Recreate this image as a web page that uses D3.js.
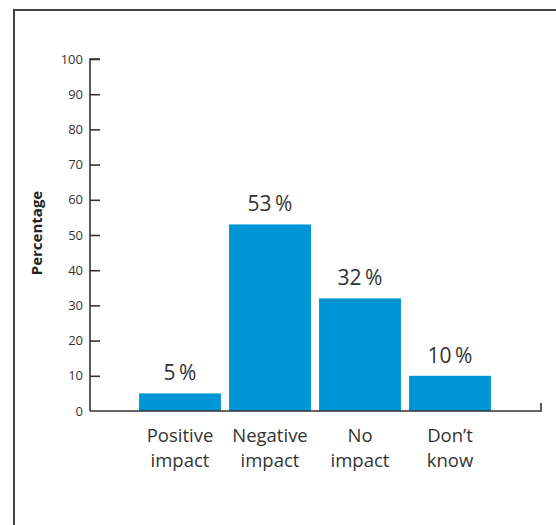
<!DOCTYPE html>
<html>
<head>
<meta charset="utf-8">
<script src="https://cdn.jsdelivr.net/npm/d3@7"></script>
<style>
  html, body { margin: 0; padding: 0; background: #fff; }
  svg { display: block; }
</style>
</head>
<body>
<script>
// Survey responses: perceived impact (percent of respondents)
const categories = [["Positive", "impact"], ["Negative", "impact"], ["No", "impact"], ["Don\u2019t", "know"]];
const values = [5, 53, 32, 10];
const yTicks = [0, 10, 20, 30, 40, 50, 60, 70, 80, 90, 100];
const yTitle = "Percentage";

const W = 556, H = 525;
const font = "'Open Sans', 'Noto Sans', sans-serif";
const ink = "#333";
const barColor = "#0096d6";

const svg = d3.select("body").append("svg").attr("width", W).attr("height", H);

// outer frame (open to the right and bottom)
svg.append("path")
  .attr("d", "M14,530 V10 H560")
  .attr("fill", "none").attr("stroke", "#444").attr("stroke-width", 2);

const x0 = 90, x1 = 541, yBase = 411, yTop = 59;

const y = d3.scaleLinear().domain([0, 100]).range([yBase, yTop]);
const x = d3.scaleBand()
  .domain(categories.map((d, i) => i))
  .range([135, 495])
  .paddingInner(0.09)
  .paddingOuter(0.045);

// bars
svg.append("g").selectAll("rect")
  .data(values)
  .join("rect")
  .attr("x", (d, i) => x(i))
  .attr("width", x.bandwidth())
  .attr("y", d => y(d))
  .attr("height", d => yBase - y(d))
  .attr("fill", barColor);

// value labels
svg.append("g").selectAll("text")
  .data(values)
  .join("text")
  .attr("x", (d, i) => x(i) + x.bandwidth() / 2)
  .attr("y", d => y(d) - 13)
  .attr("text-anchor", "middle")
  .attr("font-family", font)
  .attr("font-size", 21)
  .attr("fill", ink)
  .text(d => d + "\u2009%");

// y axis
const yAxis = d3.axisRight(y).tickValues(yTicks).tickSize(10).tickFormat(d3.format("d"));
const gy = svg.append("g").attr("transform", `translate(${x0},0)`).call(yAxis);
gy.select(".domain").attr("d", `M10,${yTop}H0V${yBase}`).attr("stroke", ink).attr("stroke-width", 1.6);
gy.selectAll(".tick line").attr("stroke", ink).attr("stroke-width", 1.6)
  .filter(d => d === 0).remove();
gy.selectAll(".tick text")
  .attr("x", -7).attr("text-anchor", "end")
  .attr("font-family", font).attr("font-size", 13).attr("fill", ink);

// x axis baseline with end tick
svg.append("path")
  .attr("d", `M${x0},${yBase}H${x1}V${yBase - 8}`)
  .attr("fill", "none").attr("stroke", ink).attr("stroke-width", 1.6);

// category labels (two lines)
const cl = svg.append("g").selectAll("text")
  .data(categories)
  .join("text")
  .attr("text-anchor", "middle")
  .attr("font-family", font)
  .attr("font-size", 18.5)
  .attr("fill", ink);
cl.each(function(d, i) {
  const t = d3.select(this);
  const cx = x(i) + x.bandwidth() / 2;
  t.append("tspan").attr("x", cx).attr("y", 442).text(d[0]);
  t.append("tspan").attr("x", cx).attr("y", 467).text(d[1]);
});

// y axis title
svg.append("text")
  .attr("transform", `translate(42,233) rotate(-90)`)
  .attr("text-anchor", "middle")
  .attr("font-family", font)
  .attr("font-size", 15)
  .attr("font-weight", "bold")
  .attr("fill", "#222")
  .text(yTitle);
</script>
</body>
</html>
